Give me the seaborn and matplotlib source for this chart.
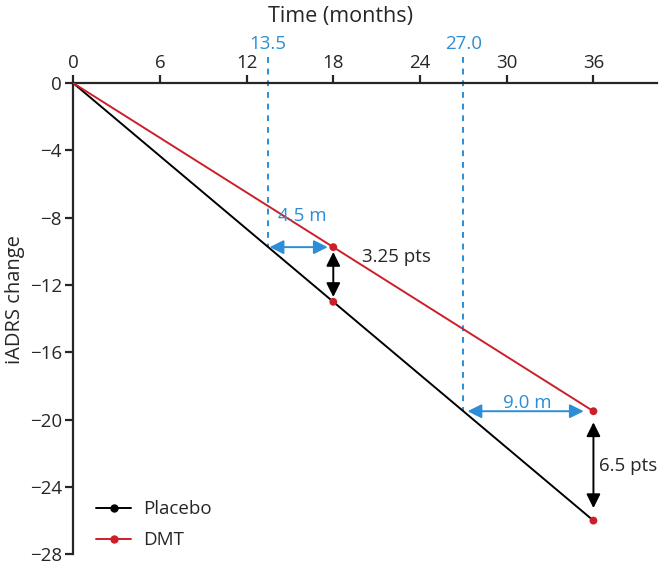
import numpy as np
import pandas as pd
import seaborn as sns
import matplotlib.pyplot as plt
from matplotlib.lines import Line2D

# data
months = [0, 18, 36]
placebo = [0, -13, -26]
dmt = [0, -9.75, -19.5]
delay_x = [13.5, 27.0]          # time at which placebo reaches the DMT value
delay_y = [-9.75, -19.5]
saved_months = ["4.5 m", "9.0 m"]
pts_labels = ["3.25 pts", "6.5 pts"]
xticks = [0, 6, 12, 18, 24, 30, 36]
yticks = [0, -4, -8, -12, -16, -20, -24, -28]

red = "#cc1f2a"
blue = "#2b8ed6"

sns.set_style("ticks")
plt.rcParams["font.family"] = ["Open Sans", "DejaVu Sans"]

df = pd.DataFrame({"month": months * 2,
                   "change": placebo + dmt,
                   "group": ["Placebo"] * 3 + ["DMT"] * 3})

fig = plt.figure(figsize=(6.59, 5.65), dpi=100)
ax = fig.add_axes([0.111, 0.019, 0.886, 0.834])

sns.lineplot(data=df, x="month", y="change", hue="group",
             palette={"Placebo": "black", "DMT": red}, lw=1.4,
             legend=False, ax=ax, zorder=3)
pts = df[df["month"] > 0]
sns.scatterplot(data=pts, x="month", y="change", color=red, s=32,
                edgecolor="none", ax=ax, zorder=4, legend=False)

# dashed lines at the equivalent placebo times
for x, y in zip(delay_x, delay_y):
    ax.plot([x, x], [1.55, y], ls=(0, (3, 3)), color=blue, lw=1.4,
            clip_on=False, zorder=2)
    ax.text(x, 2.35, f"{x:.1f}", color=blue, fontsize=13.5,
            ha="center", va="center")

# horizontal (time saved) arrows
arrow_kw = dict(arrowstyle="<|-|>", lw=1.4, mutation_scale=21)
ax.annotate("", xy=(18, delay_y[0]), xytext=(delay_x[0], delay_y[0]),
            arrowprops=dict(color=blue, shrinkA=1, shrinkB=4, **arrow_kw))
ax.annotate("", xy=(36, delay_y[1]), xytext=(delay_x[1], delay_y[1]),
            arrowprops=dict(color=blue, shrinkA=3, shrinkB=7, **arrow_kw))
ax.text(15.85, -7.9, saved_months[0], color=blue, fontsize=13.5,
        ha="center", va="center")
ax.text(31.4, -19.0, saved_months[1], color=blue, fontsize=13.5,
        ha="center", va="center")

# vertical (points) arrows
ax.annotate("", xy=(18, placebo[1]), xytext=(18, dmt[1]),
            arrowprops=dict(color="black", shrinkA=3.5, shrinkB=3.5, **arrow_kw))
ax.annotate("", xy=(36, placebo[2]), xytext=(36, dmt[2]),
            arrowprops=dict(color="black", shrinkA=8, shrinkB=9, **arrow_kw))
ax.text(20.0, -10.35, pts_labels[0], fontsize=13.5, ha="left", va="center")
ax.text(36.4, -22.75, pts_labels[1], fontsize=13.5, ha="left", va="center")

ax.set_xlim(0, 40.4)
ax.set_ylim(-28, 0)
ax.set_xticks(xticks)
ax.set_yticks(yticks)
ax.xaxis.tick_top()
ax.xaxis.set_label_position("top")
ax.tick_params(labelsize=13.5, width=1.6, length=6, pad=2)
for s in ["bottom", "right"]:
    ax.spines[s].set_visible(False)
for s in ["top", "left"]:
    ax.spines[s].set_linewidth(1.6)
ax.set_xlabel("Time (months)", fontsize=15.5)
ax.xaxis.set_label_coords(0.458, 1.13)
ax.set_ylabel("iADRS change", fontsize=14.5)
ax.yaxis.set_label_coords(-0.082, 0.54)

handles = [Line2D([], [], color="black", marker="o", ms=5, lw=1.4),
           Line2D([], [], color=red, marker="o", ms=5, lw=1.4)]
ax.legend(handles, ["Placebo", "DMT"], loc="lower left",
          bbox_to_anchor=(0.01, -0.025), frameon=False, fontsize=13.5,
          handlelength=1.9, labelspacing=0.68, handletextpad=0.6)

fig.savefig("out.png", dpi=100)
